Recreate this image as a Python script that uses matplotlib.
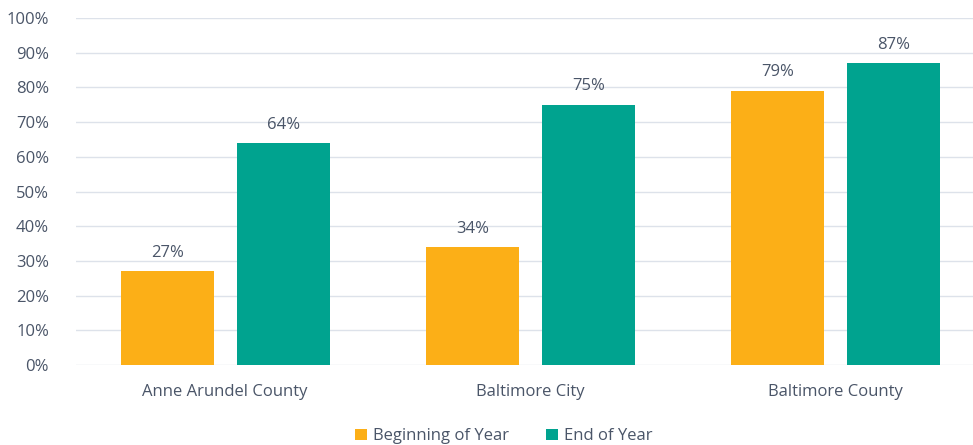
import matplotlib
matplotlib.use("Agg")
import matplotlib.pyplot as plt
import numpy as np

categories = ["Anne Arundel County", "Baltimore City", "Baltimore County"]
series_names = ["Beginning of Year", "End of Year"]
beginning = [27, 34, 79]
end = [64, 75, 87]
yticks = [0, 10, 20, 30, 40, 50, 60, 70, 80, 90, 100]

plt.rcParams['font.family'] = ['Open Sans', 'DejaVu Sans']
txt = '#4a5568'
colors = ['#FCAF17', '#00A38F']

fig = plt.figure(figsize=(9.73, 4.45), dpi=100)
ax = fig.add_axes([75.5/973, 1-365/445, 900.5/973, (365-18)/445])

x = np.arange(len(categories))
w = 0.305
off = 0.19
for vals, c, o, name in [(beginning, colors[0], -off, series_names[0]), (end, colors[1], off, series_names[1])]:
    bars = ax.bar(x + o, vals, width=w, color=c, label=name, zorder=3)
    for b, v in zip(bars, vals):
        ax.text(b.get_x() + b.get_width()/2, v + 3.0, f"{v}%", ha='center', va='bottom',
                fontsize=12, color=txt)

ax.set_xlim(-0.49, 2.46)
ax.set_ylim(0, 100)
ax.set_yticks(yticks)
ax.set_yticklabels([f"{t}%" for t in yticks])
ax.set_xticks(x)
ax.set_xticklabels(categories)
ax.grid(axis='y', color='#dde2ea', linewidth=1, zorder=0)
for s in ax.spines.values():
    s.set_visible(False)
ax.tick_params(axis='both', length=0, labelsize=12, labelcolor=txt)
ax.tick_params(axis='y', pad=19)
ax.tick_params(axis='x', pad=14)

leg = fig.legend(loc='lower center', bbox_to_anchor=(0.518, -0.032), ncol=2, frameon=False,
                 fontsize=12, handlelength=0.7, handleheight=0.7, handletextpad=0.4,
                 columnspacing=2.2, labelcolor=txt)

fig.savefig("out.png", dpi=100)
